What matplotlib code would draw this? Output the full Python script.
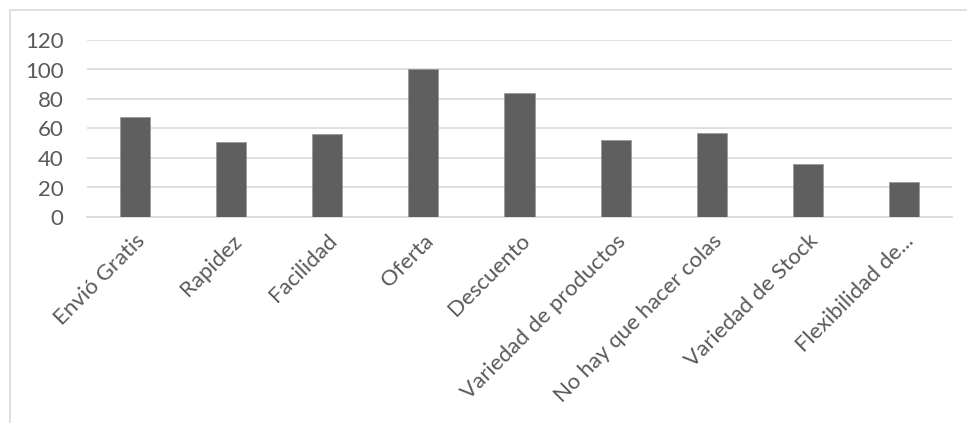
import matplotlib
matplotlib.use("Agg")
import matplotlib.pyplot as plt
from matplotlib.lines import Line2D

categories = ["Envió Gratis", "Rapidez", "Facilidad", "Oferta", "Descuento",
              "Variedad de productos", "No hay que hacer colas",
              "Variedad de Stock", "Flexibilidad de..."]
values = [68, 51, 56, 100, 84, 52, 57, 36, 24]
y_ticks = [0, 20, 40, 60, 80, 100, 120]

W, H = 967, 423
fig = plt.figure(figsize=(W / 100, H / 100), dpi=100)
fig.patch.set_facecolor("white")

# chart frame (top and left edges visible)
fig.add_artist(Line2D([10 / W, 10 / W], [0, 1 - 10 / H], color="#d9d9d9", lw=1.2,
                      transform=fig.transFigure))
fig.add_artist(Line2D([10 / W, 1], [1 - 10 / H, 1 - 10 / H], color="#d9d9d9", lw=1.2,
                      transform=fig.transFigure))

left, right = 87 / W, 952 / W
bottom, top = 1 - 217 / H, 1 - 40 / H
ax = fig.add_axes([left, bottom, right - left, top - bottom])

x = list(range(len(categories)))
ax.bar(x, values, width=0.313, color="#5f5f5f", edgecolor="#9a9a9a", linewidth=0.6, zorder=3)

ax.set_xlim(-0.5, len(categories) - 0.5)
ax.set_ylim(0, 120)
ax.set_yticks(y_ticks)
ax.set_yticklabels([str(v) for v in y_ticks])
ax.yaxis.grid(True, color="#d9d9d9", linewidth=1.2, zorder=0)
ax.set_axisbelow(True)

for s in ["top", "right", "left"]:
    ax.spines[s].set_visible(False)
ax.spines["bottom"].set_color("#d9d9d9")
ax.spines["bottom"].set_linewidth(1.2)

ax.tick_params(axis="both", length=0, colors="#595959")
ax.tick_params(axis="y", pad=17, labelsize=16)
ax.set_xticks(x)
ax.set_xticklabels(categories, rotation=45, ha="right", rotation_mode="anchor",
                   fontsize=16, color="#595959")
ax.tick_params(axis="x", pad=10)
for lbl in ax.get_xticklabels() + ax.get_yticklabels():
    lbl.set_fontfamily("Lato")

fig.savefig("out.png", dpi=100, facecolor="white")
